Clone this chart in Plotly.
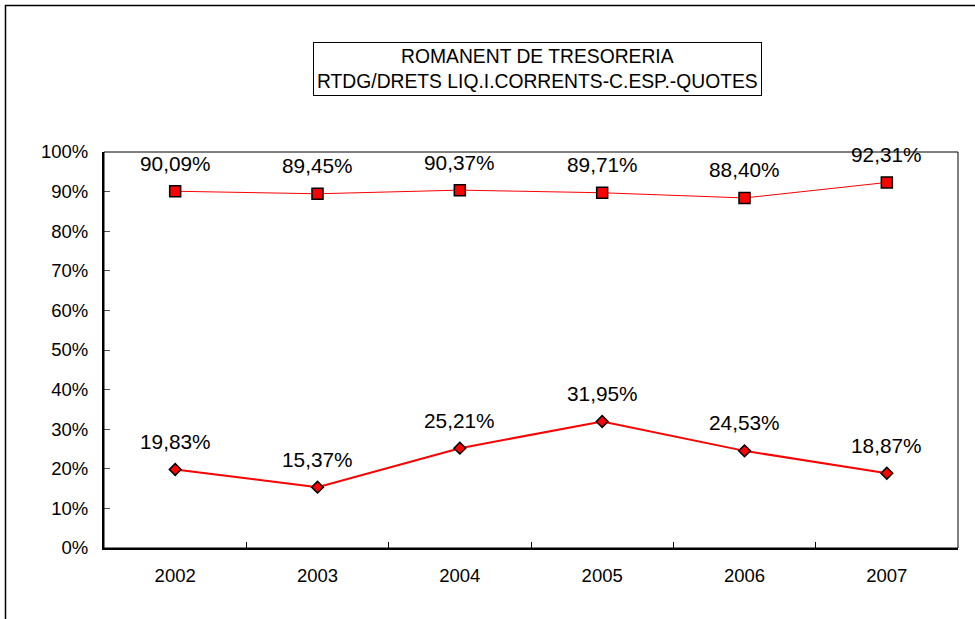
import plotly.graph_objects as go

years = ["2002", "2003", "2004", "2005", "2006", "2007"]
ratio_upper = [90.09, 89.45, 90.37, 89.71, 88.40, 92.31]
ratio_lower = [19.83, 15.37, 25.21, 31.95, 24.53, 18.87]
y_ticks = [0, 10, 20, 30, 40, 50, 60, 70, 80, 90, 100]
y_tick_labels = [f"{v}%" for v in y_ticks]
title_lines = ["ROMANENT DE TRESORERIA", "RTDG/DRETS LIQ.I.CORRENTS-C.ESP.-QUOTES"]

FONT = "Liberation Sans, Arial, sans-serif"

# Figure geometry (pixels)
W, H = 975, 619
ML, MR, MT, MB = 104, 17, 152, 71
PW, PH = W - ML - MR, H - MT - MB


def fmt(v):
    return f"{v:.2f}".replace(".", ",") + "%"


fig = go.Figure()

fig.add_trace(go.Scatter(
    x=years, y=ratio_upper, mode="lines+markers",
    line=dict(color="#ff0000", width=1),
    marker=dict(symbol="square", size=11, color="#ff0000",
                line=dict(color="black", width=1.5)),
    hoverinfo="skip", showlegend=False, cliponaxis=False,
))
fig.add_trace(go.Scatter(
    x=years, y=ratio_lower, mode="lines+markers",
    line=dict(color="#ff0000", width=2),
    marker=dict(symbol="diamond", size=9, color="#ff0000",
                line=dict(color="black", width=1.5)),
    hoverinfo="skip", showlegend=False, cliponaxis=False,
))

# Value labels above each point (category axis positions are serial indices)
annotations = []
for series in (ratio_upper, ratio_lower):
    for i, v in enumerate(series):
        annotations.append(dict(
            x=i, y=v, xref="x", yref="y", text=fmt(v), showarrow=False,
            xanchor="center", yanchor="middle", yshift=28,
            font=dict(family=FONT, size=20.8, color="black"),
        ))

# Boxed chart title
annotations.append(dict(
    x=(537 - ML) / PW, y=(H - MB - 69) / PH, xref="paper", yref="paper",
    xanchor="center", yanchor="middle",
    text="<br>".join(title_lines), showarrow=False, align="center",
    font=dict(family=FONT, size=19.3, color="black"),
    bordercolor="black", borderwidth=1, borderpad=3, bgcolor="white",
))

shapes = [
    # plot area frame
    dict(type="rect", xref="paper", yref="paper", x0=0, x1=1, y0=0, y1=1,
         line=dict(color="black", width=1), layer="above"),
    # outer chart border
    dict(type="rect", xref="paper", yref="paper",
         x0=(5.5 - ML) / PW, x1=(W + 20 - ML) / PW,
         y0=(H - MB - (H + 20)) / PH, y1=(H - MB - 5.5) / PH,
         line=dict(color="black", width=1.5)),
]

fig.update_layout(
    width=W, height=H,
    margin=dict(l=ML, r=MR, t=MT, b=MB),
    paper_bgcolor="white", plot_bgcolor="white",
    font=dict(family=FONT, size=18.5, color="black"),
    annotations=annotations, shapes=shapes,
    xaxis=dict(
        type="category", range=[-0.5, 5.5], showgrid=False, zeroline=False,
        showline=True, linecolor="black", linewidth=2,
        ticks="inside", tickson="boundaries", ticklen=6, tickcolor="black",
        tickwidth=1, ticklabelstandoff=10,
        tickfont=dict(family=FONT, size=18.5, color="black"),
    ),
    yaxis=dict(
        range=[0, 100], tickvals=y_ticks, ticktext=y_tick_labels,
        showgrid=False, zeroline=False,
        showline=True, linecolor="black", linewidth=2,
        ticks="inside", ticklen=6, tickcolor="#555555", tickwidth=1,
        ticklabelstandoff=10,
        tickfont=dict(family=FONT, size=18.5, color="black"),
    ),
)

fig.write_html("out.html")
